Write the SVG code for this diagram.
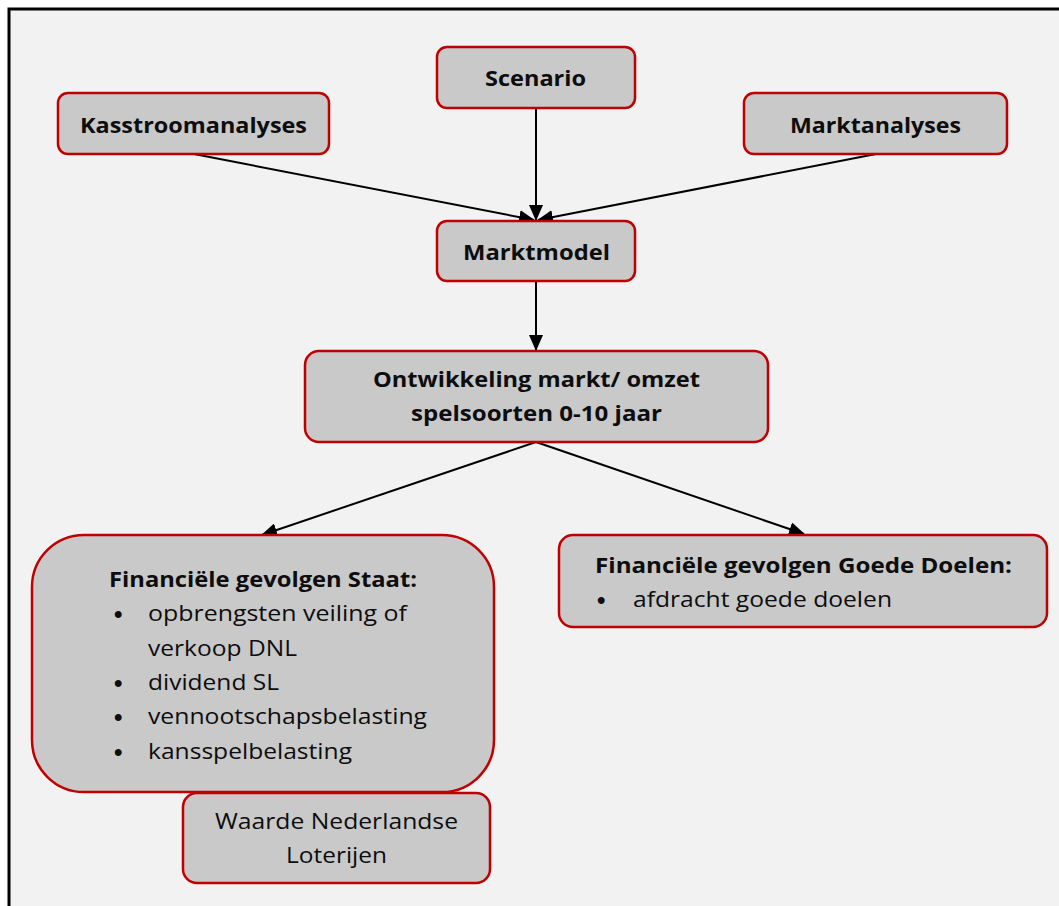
<svg xmlns="http://www.w3.org/2000/svg" width="1059" height="906" viewBox="0 0 1059 906">
<defs>
<style>
.box{fill:#c9c9c9;stroke:#c00000;stroke-width:2.5}
.b{font-family:"Open Sans","Liberation Sans",sans-serif;font-weight:bold;font-size:22px;fill:#0d0d0d}
.r{font-family:"Open Sans","Liberation Sans",sans-serif;font-size:22px;fill:#0d0d0d}
.bu{font-family:"Liberation Sans",sans-serif;font-weight:bold;font-size:24px;fill:#0d0d0d}
.c{text-anchor:middle}
.edge{stroke:#000;stroke-width:2;fill:none;marker-end:url(#ah)}
</style>
<marker id="ah" markerUnits="userSpaceOnUse" markerWidth="16" markerHeight="14" refX="15" refY="7" orient="auto">
<path d="M0,0 L16,7 L0,14 Z" fill="#000"/>
</marker>
</defs>
<rect x="0" y="0" width="1059" height="906" fill="#ffffff"/>
<rect x="9" y="9" width="1070" height="920" fill="#f2f2f2" stroke="#000" stroke-width="3"/>

<g id="connectors">
<line class="edge" x1="536" y1="108" x2="536" y2="220"/>
<line class="edge" x1="194" y1="154" x2="534" y2="220"/>
<line class="edge" x1="876" y1="154" x2="538" y2="220"/>
<line class="edge" x1="536" y1="281" x2="536" y2="350"/>
<line class="edge" x1="536" y1="442" x2="262" y2="535"/>
<line class="edge" x1="536" y1="442" x2="804" y2="534"/>
</g>

<g id="kasstroom">
<rect class="box" x="58" y="93" width="271" height="61" rx="10"/>
<text class="b c" x="193.5" y="133" textLength="227" lengthAdjust="spacingAndGlyphs">Kasstroomanalyses</text>
</g>
<g id="scenario">
<rect class="box" x="437" y="47" width="198" height="61" rx="10"/>
<text class="b c" x="535.5" y="86" textLength="101" lengthAdjust="spacingAndGlyphs">Scenario</text>
</g>
<g id="marktanalyses">
<rect class="box" x="744" y="93" width="263" height="61" rx="10"/>
<text class="b c" x="875.5" y="133" textLength="171" lengthAdjust="spacingAndGlyphs">Marktanalyses</text>
</g>
<g id="marktmodel">
<rect class="box" x="437" y="221" width="198" height="60" rx="10"/>
<text class="b c" x="536.5" y="260" textLength="147" lengthAdjust="spacingAndGlyphs">Marktmodel</text>
</g>
<g id="ontwikkeling">
<rect class="box" x="305" y="351" width="463" height="91" rx="14"/>
<text class="b c" x="536.5" y="387" textLength="327" lengthAdjust="spacingAndGlyphs">Ontwikkeling markt/ omzet</text>
<text class="b c" x="536.5" y="421" textLength="251" lengthAdjust="spacingAndGlyphs">spelsoorten 0-10 jaar</text>
</g>
<g id="staat">
<rect class="box" x="32" y="535" width="462" height="257" rx="52"/>
<text class="b" x="109" y="587" textLength="308" lengthAdjust="spacingAndGlyphs">Financiële gevolgen Staat:</text>
<text class="bu" x="114" y="622">•</text>
<text class="r" x="148" y="621" textLength="259" lengthAdjust="spacingAndGlyphs">opbrengsten veiling of</text>
<text class="r" x="148" y="656" textLength="149" lengthAdjust="spacingAndGlyphs">verkoop DNL</text>
<text class="bu" x="114" y="691">•</text>
<text class="r" x="148" y="690" textLength="131" lengthAdjust="spacingAndGlyphs">dividend SL</text>
<text class="bu" x="114" y="725">•</text>
<text class="r" x="148" y="724" textLength="279" lengthAdjust="spacingAndGlyphs">vennootschapsbelasting</text>
<text class="bu" x="114" y="760">•</text>
<text class="r" x="148" y="759" textLength="204" lengthAdjust="spacingAndGlyphs">kansspelbelasting</text>
</g>
<g id="waarde">
<rect class="box" x="183" y="793" width="307" height="90" rx="14"/>
<text class="r c" x="336.5" y="829" textLength="243" lengthAdjust="spacingAndGlyphs">Waarde Nederlandse</text>
<text class="r c" x="336.5" y="863" textLength="101" lengthAdjust="spacingAndGlyphs">Loterijen</text>
</g>
<g id="goededoelen">
<rect class="box" x="559" y="535" width="488" height="92" rx="14"/>
<text class="b" x="595" y="573" textLength="417" lengthAdjust="spacingAndGlyphs">Financiële gevolgen Goede Doelen:</text>
<text class="bu" x="597" y="608">•</text>
<text class="r" x="633" y="607" textLength="259" lengthAdjust="spacingAndGlyphs">afdracht goede doelen</text>
</g>
</svg>
